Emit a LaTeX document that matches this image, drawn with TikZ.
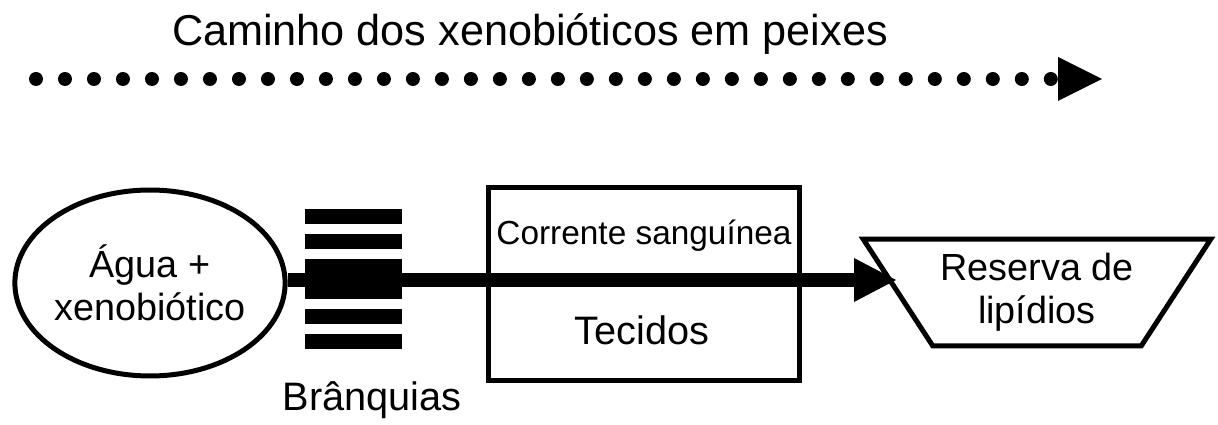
\documentclass[tikz,border=0pt]{standalone}
\usepackage{fontspec}
\setmainfont{Liberation Sans}
\usetikzlibrary{shapes.geometric,arrows.meta,positioning}

\begin{document}
\begin{tikzpicture}[
		x=0.02cm, y=-0.02cm,
		line width=0.1cm,
		txt/.style = {font=\fontsize{21.5}{24.4}\selectfont, align=center, inner sep=0pt},
		bigtxt/.style = {font=\fontsize{22.6}{26}\selectfont, inner sep=0pt, anchor=base},
		water/.style = {draw, ellipse, minimum width=5.36cm, minimum height=3.72cm, txt},
		tank/.style = {draw, rectangle, minimum width=6.24cm, minimum height=3.88cm},
		lipid/.style = {draw, trapezium, shape border rotate=180, trapezium stretches=true,
			trapezium angle=50.4, minimum width=6.96cm, minimum height=2.14cm, txt},
		gill/.style = {fill, minimum width=1.94cm, minimum height=0.3cm, inner sep=0pt, outer sep=0pt},
		flow/.style = {line width=0.28cm, -{Triangle[length=0.84cm, width=0.88cm, line width=0pt]}},
		]
	\useasboundingbox (0,0) rectangle (1218,425);

	% title and dotted direction arrow
	\node[anchor=base, font=\fontsize{24.6}{29}\selectfont] (title) at (530,46) {Caminho dos xenobióticos em peixes};
	\coordinate (pathstart) at (36,79);
	\coordinate (pathend) at (1102,79);
	\draw[line width=0.28cm, line cap=round, dash pattern=on 0pt off 0.58cm,
		-{Triangle[length=0.88cm, width=0.88cm, line width=0pt]}] (pathstart) -- (pathend);

	% compartments
	\node[water] (water) at (150,283) {Água +\\xenobiótico};
	\node[tank] (blood) at (644,284) {};
	\node[lipid] (lipids) at (1037,292.5) {Reserva de\\lipídios};
	\coordinate (tip) at (896,280);

	\draw[flow] (water.east |- tip) -- (tip);

	% gills
	\foreach \k in {0,...,5}
		\node[gill] (bar\k) at (353.5,216.5+25*\k) {};
	\node[bigtxt] (gilltext) at (372,411) {Brânquias};

	\node[anchor=base, font=\fontsize{19}{22}\selectfont, inner sep=0pt] (bloodtext) at (644,245) {Corrente sanguínea};
	\node[bigtxt] (tissue) at (642,345) {Tecidos};
\end{tikzpicture}
\end{document}
